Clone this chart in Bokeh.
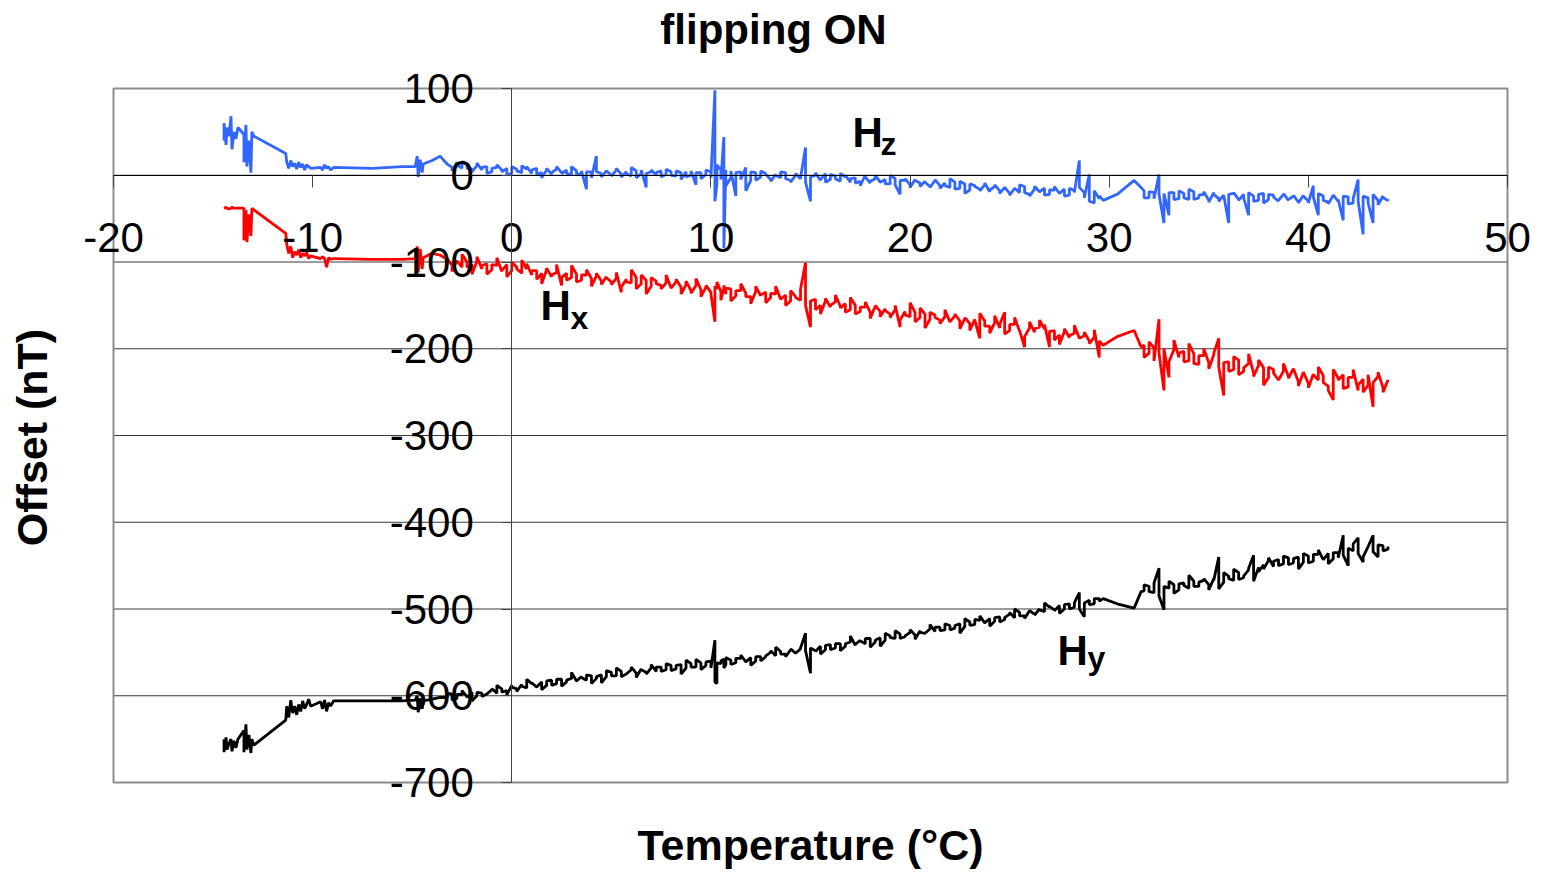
import math
from bokeh.plotting import figure
from bokeh.models import LinearAxis, FixedTicker, Label, Range1d, ColumnDataSource
from bokeh.embed import file_html
from bokeh.resources import INLINE

# ---------------- data ----------------
x_ticks = [-20, -10, 0, 10, 20, 30, 40, 50]
x_tick_labels = ["-20", "-10", "0", "10", "20", "30", "40", "50"]
y_ticks = [-700, -600, -500, -400, -300, -200, -100, 0, 100]
y_tick_labels = ["-700", "-600", "-500", "-400", "-300", "-200", "-100", "0", "100"]

# start of the run (cold clusters), one reading per point
temp_start = [-14.45, -14.45, -14.35, -14.3, -14.2, -14.1, -14.05, -13.95, -13.85, -13.75,
              -13.45, -13.45, -13.35, -13.3, -13.2, -13.1, -13.05, -12.95,
              -11.35, -11.3, -11.2, -11.1, -11.0, -10.9, -10.8, -10.7, -10.6, -10.5, -10.4, -10.3, -10.2, -10.1,
              -9.6, -9.5, -9.4, -9.3, -9.2, -9.1, -8.95,
              -7.0, -5.5, -4.85, -4.75, -4.7, -4.6, -4.5, -4.45, -4.0, -3.6]
hz_start = [40, 60, 35, 55, 45, 68, 30, 50, 42, 55,
            47, 15, 58, 10, 40, 3, 50, 45,
            25, 15, 8, 17, 10, 14, 7, 15, 9, 13, 6, 12, 10, 8,
            9, 6, 12, 8, 10, 6, 9,
            8, 10, 10, 22, -2, 18, 3, 13, 17, 22]
hx_start = [-38, -38, -37, -38, -39, -38, -37, -38, -38, -38,
            -38, -75, -40, -77, -45, -70, -38, -40,
            -67, -80, -90, -82, -95, -88, -92, -86, -95, -90, -93, -89, -96, -93,
            -96, -94, -96, -106, -95, -97, -96,
            -97, -97, -96, -82, -112, -85, -108, -95, -90, -92]
hy_start = [-650, -665, -648, -662, -655, -650, -664, -652, -660, -650,
            -640, -665, -633, -662, -645, -666, -650, -657,
            -628, -612, -625, -605, -620, -612, -622, -610, -618, -606, -615, -610, -604, -612,
            -607, -615, -605, -618, -608, -612, -606,
            -606, -606, -605, -600, -619, -603, -615, -606, -604, -602]

# main warming run: two readings (a, b) at each temperature step
temp_main = [-3.25, -3.0, -2.75, -2.5, -2.25, -2.0, -1.75, -1.5,
             -1.25, -1.0, -0.75, -0.5, -0.25, 0.0, 0.25, 0.5,
             0.75, 1.0, 1.25, 1.5, 1.75, 2.0, 2.25, 2.5,
             2.75, 3.0, 3.25, 3.5, 3.75, 4.0, 4.25, 4.5,
             4.75, 5.0, 5.25, 5.5, 5.75, 6.0, 6.25, 6.5,
             6.75, 7.0, 7.25, 7.5, 7.75, 8.0, 8.25, 8.5,
             8.75, 9.0, 9.25, 9.5, 9.75, 10.0, 10.2, 10.3, 10.5, 10.65,
             10.75, 11.0, 11.25, 11.5, 11.75, 12.0, 12.25, 12.5,
             12.75, 13.0, 13.25, 13.5, 13.75, 14.0, 14.25, 14.5,
             14.75, 15.0, 15.25, 15.5, 15.75, 16.0, 16.25, 16.5,
             16.75, 17.0, 17.25, 17.5, 17.75, 18.0, 18.25, 18.5,
             18.75, 19.0, 19.25, 19.5, 19.75, 20.0, 20.25, 20.5,
             20.75, 21.0, 21.25, 21.5, 21.75, 22.0, 22.25, 22.5,
             22.75, 23.0, 23.25, 23.5, 23.75, 24.0, 24.25, 24.5,
             24.75, 25.0, 25.25, 25.5, 25.75, 26.0, 26.25, 26.5,
             26.75, 27.0, 27.25, 27.5, 27.75, 28.0, 28.25, 28.5,
             28.75, 29.0, 29.25, 29.5]
hz_main_a = [13, 9, 15, 8, 12, 7, 11, 6,
             10, 4, 9, 6, 8, 2, 7, 3,
             7, 2, 8, 3, 6, 1, 7, 3,
             6, 1, 5, 2, -16, 4, 22, 2,
             5, 0, 6, 1, 4, -1, 5, 2,
             -14, 4, 0, 5, 1, 4, -1, 3,
             4, 0, -11, 3, 1, 4, 98, -10, 6, 44,
             6, -3, -24, 4, 9, -6, 3, -2,
             2, -5, 1, -3, 3, -6, 0, -4,
             32, -30, 0, -6, 2, -5, -1, -7,
             -2, -8, -3, -7, 0, -9, -4, -8,
             -5, -10, -4, -22, -6, -11, -5, -9,
             -7, -13, -6, -12, -9, -14, -8, -15,
             -10, -17, -12, -16, -11, -19, -13, -18,
             -14, -21, -15, -20, -13, -22, -16, -19,
             -15, -22, -17, -21, -16, -23, -18, 17,
             -20, 1, -32, -27]
hz_main_b = [13, 5, 12, 16, 8, 4, 14, 9,
             2, 8, 12, 4, 1, 10, 5, 11,
             10, 6, 1, -3, 8, 3, 10, 2,
             2, 10, 1, 5, 4, -3, 4, -2,
             5, -1, 8, -2, 2, 9, -3, 6,
             2, 6, 3, -2, 7, 0, 5, -5,
             -2, 5, 3, -4, 6, -3, -30, 12, -5, -84,
             -12, 5, 3, -5, -18, 4, -6, 5,
             1, -7, 0, 4, -4, -8, 2, -3,
             -8, -2, 3, -5, -8, 1, -4, 2,
             0, -4, -9, -12, -2, -7, 0, -8,
             -10, 0, -11, -6, -4, -14, -6, -13,
             -8, -14, -5, -15, -12, -4, -16, -7,
             -21, -10, -13, -18, -9, -17, -11, -21,
             -14, -23, -15, -11, -20, -24, -13, -19,
             -23, -17, -13, -21, -24, -15, -20, -14,
             -26, -30, -18, -24]
hx_main_a = [-97, -104, -98, -106, -100, -103, -99, -108,
             -102, -109, -104, -111, -103, -110, -106, -113,
             -108, -115, -110, -113, -109, -117, -112, -127,
             -113, -118, -114, -121, -115, -119, -116, -122,
             -117, -123, -119, -135, -120, -124, -118, -125,
             -121, -128, -122, -127, -124, -130, -123, -129,
             -126, -133, -127, -132, -129, -135, -169, -131, -134, -130,
             -137, -131, -139, -133, -136, -140, -134, -139,
             -135, -141, -137, -143, -138, -145, -140, -144,
             -101, -175, -143, -150, -145, -152, -146, -151,
             -148, -155, -150, -157, -152, -158, -151, -157,
             -154, -160, -155, -175, -157, -163, -158, -164,
             -160, -166, -161, -167, -163, -169, -162, -168,
             -165, -171, -166, -188, -168, -174, -170, -176,
             -158, -179, -172, -180, -198, -176, -181, -175,
             -177, -198, -179, -184, -180, -187, -182, -188,
             -185, -191, -187, -210]
hx_main_b = [-96, -111, -99, -91, -106, -114, -94, -104,
             -114, -103, -95, -110, -117, -100, -108, -98,
             -102, -110, -120, -125, -107, -115, -103, -118,
             -121, -104, -123, -115, -109, -128, -113, -126,
             -118, -126, -112, -129, -123, -109, -131, -115,
             -137, -118, -125, -131, -115, -130, -120, -137,
             -122, -136, -119, -140, -127, -137, -128, -123, -144, -127,
             -130, -145, -133, -125, -140, -148, -128, -138,
             -147, -136, -128, -143, -150, -133, -141, -131,
             -150, -145, -155, -160, -142, -150, -138, -153,
             -158, -141, -160, -152, -146, -165, -150, -163,
             -156, -164, -150, -167, -161, -147, -169, -153,
             -176, -158, -164, -171, -155, -169, -160, -177,
             -164, -179, -167, -159, -174, -182, -162, -172,
             -183, -172, -164, -179, -186, -169, -177, -167,
             -172, -180, -190, -195, -177, -185, -173, -188,
             -181, -194, -178, -191]
hy_main_a = [-602, -598, -603, -599, -601, -596, -600, -597,
             -598, -593, -597, -592, -594, -588, -592, -587,
             -591, -586, -590, -584, -588, -582, -586, -581,
             -584, -580, -583, -578, -582, -577, -580, -576,
             -578, -573, -577, -572, -575, -570, -574, -569,
             -573, -568, -572, -567, -570, -565, -569, -564,
             -568, -563, -567, -562, -565, -560, -536, -586, -563, -558,
             -564, -559, -562, -557, -561, -556, -560, -555,
             -555, -550, -554, -549, -552, -547, -551, -546,
             -528, -574, -548, -543, -547, -541, -545, -540,
             -543, -538, -542, -536, -540, -534, -538, -533,
             -536, -531, -534, -529, -532, -527, -530, -525,
             -528, -523, -526, -521, -524, -519, -522, -517,
             -520, -515, -518, -513, -516, -511, -514, -509,
             -512, -506, -510, -504, -508, -502, -506, -500,
             -503, -498, -501, -496, -500, -494, -498, -481,
             -509, -490, -494, -488]
hy_main_b = [-597, -605, -598, -594, -602, -606, -596, -601,
             -598, -592, -588, -596, -599, -590, -595, -589,
             -581, -585, -590, -593, -583, -588, -581, -589,
             -582, -573, -583, -579, -576, -586, -578, -585,
             -571, -577, -568, -578, -575, -567, -579, -570,
             -575, -564, -567, -572, -563, -571, -565, -575,
             -559, -567, -558, -570, -561, -568, -584, -562, -560, -568,
             -556, -564, -557, -553, -561, -565, -555, -560,
             -554, -548, -544, -552, -555, -546, -551, -545,
             -548, -545, -549, -552, -542, -547, -540, -548,
             -540, -531, -541, -537, -534, -544, -536, -543,
             -528, -533, -525, -534, -531, -524, -535, -527,
             -528, -518, -521, -525, -517, -524, -519, -528,
             -511, -519, -512, -508, -516, -520, -510, -515,
             -510, -504, -500, -508, -511, -502, -507, -501,
             -493, -497, -502, -505, -495, -500, -493, -500,
             -493, -495, -488, -491]

# gap around 30 degC
temp_gap = [29.7, 30.4, 31.25, 31.6]
hz_gap = [-29, -22, -6, -14]
hx_gap = [-196, -186, -179, -198]
hy_gap = [-488, -494, -499, -480]

# end of the run: two readings (a, b) at each temperature step
temp_end = [31.75, 32.0, 32.25, 32.5, 32.75, 33.0, 33.25, 33.5,
            33.75, 34.0, 34.25, 34.5, 34.75, 35.0, 35.25, 35.5,
            35.75, 36.0, 36.25, 36.5, 36.75, 37.0, 37.25, 37.5,
            37.75, 38.0, 38.25, 38.5, 38.75, 39.0, 39.25, 39.5,
            39.75, 40.0, 40.25, 40.5, 40.75, 41.0, 41.25, 41.5,
            41.75, 42.0, 42.25, 42.5, 42.75, 43.0, 43.25, 43.5,
            43.75, 44.0]
hz_end_a = [-18, -26, -20, 1, -55, -46, -20, -27,
            -21, -28, -19, -26, -22, -29, -20, -27,
            -23, -55, -21, -28, -22, -46, -24, -29,
            -21, -28, -23, -30, -22, -29, -24, -31,
            -23, -30, -12, -46, -24, -31, -23, -30,
            -52, -25, -32, -5, -68, -26, -55, -29,
            -24, -29]
hz_end_b = [-26, -19, -27, -22, -21, -20, -28, -18,
            -26, -16, -28, -23, -19, -31, -22, -30,
            -23, -22, -20, -29, -26, -20, -30, -22,
            -32, -22, -25, -29, -21, -28, -23, -32,
            -24, -32, -25, -21, -29, -33, -23, -28,
            -24, -33, -27, -30, -24, -32, -22, -34,
            -26, -28]
hx_end_a = [-196, -205, -199, -166, -248, -233, -201, -210,
            -203, -214, -206, -218, -208, -216, -207, -188,
            -254, -215, -224, -213, -226, -217, -228, -219,
            -222, -233, -224, -236, -226, -232, -223, -238,
            -227, -240, -229, -236, -231, -243, -259, -234,
            -230, -244, -233, -248, -235, -242, -267, -232,
            -245, -236]
hx_end_b = [-210, -192, -214, -205, -200, -215, -190, -205,
            -215, -194, -217, -208, -200, -223, -205, -221,
            -216, -226, -209, -230, -222, -206, -232, -213,
            -242, -221, -228, -236, -217, -234, -223, -243,
            -227, -245, -230, -221, -239, -248, -224, -236,
            -246, -233, -224, -242, -250, -230, -239, -227,
            -250, -237]
hy_end_a = [-479, -474, -481, -453, -501, -476, -472, -478,
            -470, -476, -468, -474, -467, -472, -465, -440,
            -469, -462, -467, -458, -464, -455, -438, -452,
            -449, -444, -451, -443, -448, -441, -447, -440,
            -446, -439, -445, -437, -443, -436, -442, -435,
            -415, -450, -433, -418, -446, -428, -415, -440,
            -427, -431]
hy_end_b = [-472, -480, -470, -485, -474, -468, -482, -471,
            -473, -461, -474, -469, -465, -478, -467, -477,
            -458, -465, -454, -466, -462, -453, -468, -457,
            -454, -441, -445, -450, -439, -449, -442, -454,
            -436, -447, -437, -432, -443, -448, -435, -441,
            -438, -430, -425, -436, -440, -428, -434, -426,
            -433, -428]


def paired(temps):
    return [t for t in temps for _ in (0, 1)]


def interleave(a, b):
    return [v for pair in zip(a, b) for v in pair]


temperature = temp_start + paired(temp_main) + temp_gap + paired(temp_end)
h_z = hz_start + interleave(hz_main_a, hz_main_b) + hz_gap + interleave(hz_end_a, hz_end_b)
h_x = hx_start + interleave(hx_main_a, hx_main_b) + hx_gap + interleave(hx_end_a, hx_end_b)
h_y = hy_start + interleave(hy_main_a, hy_main_b) + hy_gap + interleave(hy_end_a, hy_end_b)

source = ColumnDataSource(data=dict(t=temperature, hz=h_z, hx=h_x, hy=h_y))

# ---------------- layout geometry (pixels) ----------------
W, H = 1541, 873
PX_L, PX_R, PX_T, PX_B = 113, 1507, 88, 782  # plot area box
ppx = (PX_R - PX_L) / (x_ticks[-1] - x_ticks[0])
ppy = (PX_B - PX_T) / (y_ticks[-1] - y_ticks[0])


def dx(px):
    return x_ticks[0] + (px - PX_L) / ppx


def dy(py):
    return y_ticks[-1] - (py - PX_T) / ppy


FONT = "Liberation Sans"

p = figure(width=W, height=H, title=None,
           x_range=Range1d(dx(0), dx(W)), y_range=Range1d(dy(H), dy(0)),
           output_backend="svg", toolbar_location=None,
           x_axis_location=None, y_axis_location=None,
           min_border=0, min_border_left=0, min_border_right=0,
           min_border_top=0, min_border_bottom=0,
           background_fill_color="white", border_fill_color="white")
p.outline_line_color = None
for g in p.grid:
    g.visible = False

# horizontal grid lines across the plot area
grid_src = ColumnDataSource(data=dict(y=y_ticks,
                                      x0=[x_ticks[0]] * len(y_ticks),
                                      x1=[x_ticks[-1]] * len(y_ticks)))
p.segment(x0="x0", x1="x1", y0="y", y1="y", source=grid_src,
          line_color="#3a3a3a", line_width=1)

# series
p.line("t", "hz", source=source, line_color="#3366FF", line_width=2.8)
p.line("t", "hx", source=source, line_color="#FF0000", line_width=2.8)
p.line("t", "hy", source=source, line_color="#000000", line_width=2.8)

# plot-area border
p.quad(left=[x_ticks[0]], right=[x_ticks[-1]], bottom=[y_ticks[0]], top=[y_ticks[-1]],
       fill_color=None, line_color="#8c8c8c", line_width=2)

# axes crossing at zero
xaxis0 = LinearAxis(fixed_location=0, bounds=(x_ticks[0], x_ticks[-1]),
                    ticker=FixedTicker(ticks=x_ticks),
                    major_label_overrides={t: s for t, s in zip(x_ticks, x_tick_labels)},
                    major_label_text_font=FONT, major_label_text_font_size="42px",
                    major_label_text_color="black", major_label_standoff=36,
                    major_tick_out=12, major_tick_in=0, major_tick_line_color="#444444",
                    minor_tick_line_color=None, axis_line_color="black", axis_line_width=1)
p.add_layout(xaxis0, "below")

yaxis0 = LinearAxis(fixed_location=0, bounds=(y_ticks[0], y_ticks[-1]),
                    ticker=FixedTicker(ticks=y_ticks),
                    major_label_overrides={t: s for t, s in zip(y_ticks, y_tick_labels)},
                    major_label_text_font=FONT, major_label_text_font_size="42px",
                    major_label_text_color="black", major_label_standoff=28,
                    major_tick_out=10, major_tick_in=0, major_tick_line_color="#444444",
                    minor_tick_line_color=None, axis_line_color="#444444", axis_line_width=1)
p.add_layout(yaxis0, "left")

# texts (baseline positions in pixels; bokeh draws the alphabetic baseline ~0.375em low)
SHIFT = 0.375


def text_label(text, px, py, size, bold=True, align="left", angle=0.0):
    if angle == 0.0:
        x, y = dx(px), dy(py - SHIFT * size)
    else:
        x, y = dx(px - SHIFT * size), dy(py)
    p.add_layout(Label(x=x, y=y, text=text, text_font=FONT,
                       text_font_style="bold" if bold else "normal",
                       text_font_size=f"{size}px", text_color="black",
                       text_align=align, text_baseline="alphabetic", angle=angle))


text_label("flipping ON", 773, 45, 42, align="center")
text_label("Temperature (°C)", 810, 861, 43, align="center")
text_label("Offset (nT)", 48, 437, 43, align="center", angle=math.pi / 2)

text_label("H", 852, 148, 42)
text_label("z", 880, 155, 32)
text_label("H", 540, 321, 42)
text_label("x", 570, 329, 32)
text_label("H", 1057, 666, 42)
text_label("y", 1087, 669, 32)

open("out.html", "w").write(file_html(p, INLINE))
